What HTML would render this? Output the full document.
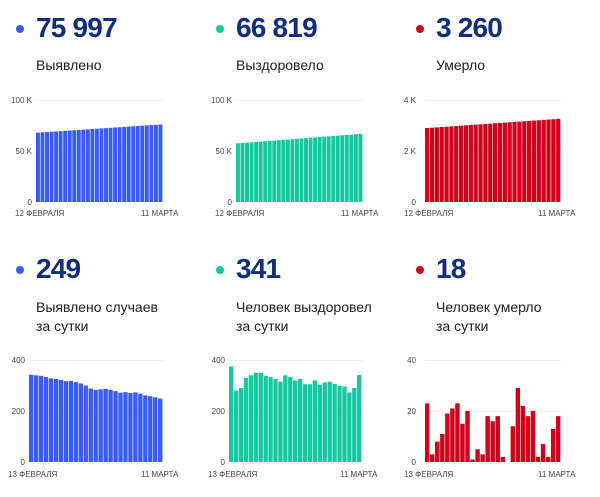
<!DOCTYPE html>
<html><head><meta charset="utf-8"><style>
body{margin:0;width:600px;height:497px;background:#fff;font-family:"Liberation Sans",sans-serif;position:relative;overflow:hidden}
.n{position:absolute;font-size:28px;font-weight:bold;color:#0f2c80;letter-spacing:-0.8px}
.d{position:absolute;width:8px;height:8px;border-radius:50%}
.l{position:absolute;font-size:14px;color:#222;line-height:19px}
svg{position:absolute;left:0;top:0}
</style></head><body>
<div class="d" style="left:16px;top:25px;background:#3b5bf5"></div><div class="n" style="left:36px;top:12px">75 997</div><div class="l" style="left:36px;top:56px">Выявлено</div>
<div class="d" style="left:216px;top:25px;background:#14c9a0"></div><div class="n" style="left:236px;top:12px">66 819</div><div class="l" style="left:236px;top:56px">Выздоровело</div>
<div class="d" style="left:416px;top:25px;background:#d0021b"></div><div class="n" style="left:436px;top:12px">3 260</div><div class="l" style="left:436px;top:56px">Умерло</div>
<div class="d" style="left:16px;top:266px;background:#3b5bf5"></div><div class="n" style="left:36px;top:253px">249</div><div class="l" style="left:36px;top:298px">Выявлено случаев<br>за сутки</div>
<div class="d" style="left:216px;top:266px;background:#14c9a0"></div><div class="n" style="left:236px;top:253px">341</div><div class="l" style="left:236px;top:298px">Человек выздоровел<br>за сутки</div>
<div class="d" style="left:416px;top:266px;background:#d0021b"></div><div class="n" style="left:436px;top:253px">18</div><div class="l" style="left:436px;top:298px">Человек умерло<br>за сутки</div>
<svg width="600" height="497" id="s" font-family="Liberation Sans, sans-serif" font-size="8" fill="#444">
<text x="32" y="103" text-anchor="end">100 K</text><text x="32" y="154" text-anchor="end">50 K</text><text x="32" y="205" text-anchor="end">0</text>
<text x="232" y="103" text-anchor="end">100 K</text><text x="232" y="154" text-anchor="end">50 K</text><text x="232" y="205" text-anchor="end">0</text>
<text x="416" y="103" text-anchor="end">4 K</text><text x="416" y="154" text-anchor="end">2 K</text><text x="416" y="205" text-anchor="end">0</text>
<text x="25" y="363" text-anchor="end">400</text><text x="25" y="414" text-anchor="end">200</text><text x="25" y="465" text-anchor="end">0</text>
<text x="225" y="363" text-anchor="end">400</text><text x="225" y="414" text-anchor="end">200</text><text x="225" y="465" text-anchor="end">0</text>
<text x="416" y="363" text-anchor="end">40</text><text x="416" y="414" text-anchor="end">20</text><text x="416" y="465" text-anchor="end">0</text>
<text x="15" y="216">12 ФЕВРАЛЯ</text><text x="141" y="216">11 МАРТА</text>
<text x="215" y="216">12 ФЕВРАЛЯ</text><text x="341" y="216">11 МАРТА</text>
<text x="404" y="216">12 ФЕВРАЛЯ</text><text x="538" y="216">11 МАРТА</text>
<text x="8" y="477">13 ФЕВРАЛЯ</text><text x="141" y="477">11 МАРТА</text>
<text x="208" y="477">13 ФЕВРАЛЯ</text><text x="340" y="477">11 МАРТА</text>
<text x="404" y="477">13 ФЕВРАЛЯ</text><text x="538" y="477">11 МАРТА</text>
</svg>
<script>
var s=document.getElementById('s'),NS='http://www.w3.org/2000/svg';
function r(x,y,w,h,c){var e=document.createElementNS(NS,'rect');e.setAttribute('x',x);e.setAttribute('y',y);e.setAttribute('width',w);e.setAttribute('height',h);e.setAttribute('fill',c);s.appendChild(e);}
function chart(x0,x1,top,bot,max,vals,c){
 r(x0,top,x1-x0,1,'#eee');r(x0,(top+bot)/2,x1-x0,1,'#eee');
 var w=(x1-x0)/vals.length;
 vals.forEach(function(v,i){if(v<=0)return;var h=v/max*(bot-top);r(x0+i*w,bot-h,w-0.6,h,c);});
}
function lin(a,b,n){var o=[];for(var i=0;i<n;i++)o.push(a+(b-a)*i/(n-1));return o;}
chart(36,163,100,202,100000,lin(68000,76000,28),'#3b5bf5');
chart(236,363,100,202,100000,lin(57500,66800,28),'#14c9a0');
chart(425,561,100,202,4000,lin(2900,3260,28),'#d0021b');
chart(29,163,360,462,400,[342,340,338,333,328,326,322,317,318,313,308,300,288,283,285,287,283,278,272,274,271,273,268,261,258,254,249],'#3b5bf5');
chart(229,362,360,462,400,[375,280,290,330,340,350,350,338,333,325,315,340,333,320,326,305,305,320,303,312,315,306,298,296,273,290,341],'#14c9a0');
chart(425,561,360,462,40,[23,3,8,11,19,21,23,15,20,1,5,3,18,16,18,2,0,14,29,22,18,20,2,7,2,13,18],'#d0021b');
</script>
</body></html>
